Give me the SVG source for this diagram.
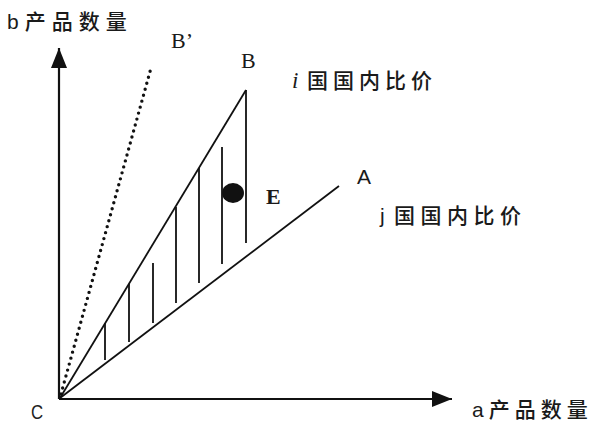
<svg xmlns="http://www.w3.org/2000/svg" width="593" height="423" viewBox="0 0 593 423">
<style>
.ax{stroke:#111;stroke-width:2.2;fill:none}
.ln{stroke:#111;stroke-width:1.8;fill:none}
.h{stroke:#111;stroke-width:1.8}
.dot{stroke:#111;stroke-width:3.4;stroke-linecap:round;stroke-dasharray:0 6.2;fill:none}
.cjk{font-family:"Liberation Sans","Noto Sans CJK SC",sans-serif;font-size:21px;fill:#1a1a1a;font-weight:500}
.ser{font-family:"Liberation Serif",serif;font-size:22px;fill:#1a1a1a}
</style>
<defs>
<marker id="arr" viewBox="0 0 20 16" refX="20" refY="8" markerWidth="20" markerHeight="16" markerUnits="userSpaceOnUse" orient="auto">
<path d="M0,0 L20,8 L0,16 Z" fill="#111"/>
</marker>
</defs>
<rect width="593" height="423" fill="#fff"/>
<g id="connectors">
<line class="ax" x1="59" y1="399" x2="59" y2="48" marker-end="url(#arr)"/>
<line class="ax" x1="59" y1="399" x2="452" y2="399" marker-end="url(#arr)"/>
<line class="dot" x1="61" y1="394" x2="151" y2="68"/>
<line class="ln" x1="60" y1="398" x2="246" y2="90"/>
<line class="ln" x1="246" y1="90" x2="246" y2="243"/>
<line class="ln" x1="60" y1="398" x2="339" y2="186"/>
</g>
<g id="hatch">
<line class="h" x1="105" y1="323" x2="105" y2="360"/>
<line class="h" x1="129" y1="284" x2="129" y2="342"/>
<line class="h" x1="153" y1="263" x2="153" y2="323"/>
<line class="h" x1="176" y1="207" x2="176" y2="303"/>
<line class="h" x1="199" y1="168" x2="199" y2="283"/>
<line class="h" x1="222" y1="147" x2="222" y2="264"/>
</g>
<g id="E">
<ellipse cx="233" cy="193" rx="11" ry="10" fill="#111"/>
<text x="266" y="204" class="ser" font-weight="bold" font-size="26">E</text>
</g>
<g id="labels">
<text x="7" y="29" class="cjk" font-size="20" letter-spacing="6">b产品数量</text>
<text x="171" y="48" class="ser" font-size="23">B’</text>
<text x="241" y="68" class="ser" font-size="23">B</text>
<text x="357" y="184" font-family="Liberation Sans,sans-serif" font-size="21" fill="#1a1a1a">A</text>
<text x="31" y="419" font-family="Liberation Sans,sans-serif" font-size="21" fill="#222" transform="translate(31 0) scale(0.8 1) translate(-31 0)">C</text>
<text x="292" y="88" class="cjk"><tspan font-family="Liberation Serif,serif" font-style="italic" font-size="23">i</tspan><tspan x="307" letter-spacing="5">国国内比价</tspan></text>
<text x="380" y="223" class="cjk"><tspan>j</tspan><tspan x="394" letter-spacing="5.5">国国内比价</tspan></text>
<text x="472" y="417" class="cjk" font-size="20" letter-spacing="5">a产品数量</text>
</g>
</svg>
